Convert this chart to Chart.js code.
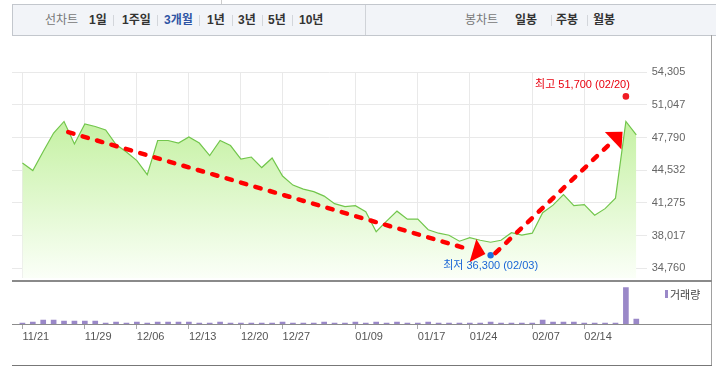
<!DOCTYPE html>
<html><head><meta charset="utf-8">
<script src="https://cdn.jsdelivr.net/npm/chart.js@4.4.1/dist/chart.umd.min.js"></script>
<style>
html,body{margin:0;padding:0;background:#fff;}
#wrap{position:relative;width:716px;height:366px;overflow:hidden;font-family:"Liberation Sans","Noto Sans CJK KR",sans-serif;}
.abs{position:absolute;}
.t{position:absolute;top:4px;line-height:32px;font-size:12px;white-space:nowrap;font-weight:bold;color:#333;}
.n{font-weight:normal;color:#777;}
.sep{position:absolute;top:15px;width:1px;height:11px;background:#d3d6db;}
canvas{position:absolute;left:0;}
</style></head>
<body><div id="wrap">
<div class="abs" style="left:221px;top:0;width:1px;height:4px;background:#ccc"></div>
<div class="abs" style="left:12px;top:4px;width:710px;height:30px;background:#f2f4f8;border:1px solid #c3c7cd;"></div>
<div class="abs" style="left:365px;top:5px;width:1px;height:30px;background:#d0d3d8"></div>
<span class="t n" style="left:45px">선차트</span>
<span class="t" style="left:89px">1일</span><div class="sep" style="left:113px"></div>
<span class="t" style="left:122px">1주일</span><div class="sep" style="left:157px"></div>
<span class="t" style="left:164px;color:#2f55a4">3개월</span><div class="sep" style="left:199px"></div>
<span class="t" style="left:207px">1년</span><div class="sep" style="left:232px"></div>
<span class="t" style="left:238px">3년</span><div class="sep" style="left:262px"></div>
<span class="t" style="left:268px">5년</span><div class="sep" style="left:292px"></div>
<span class="t" style="left:299px">10년</span>
<span class="t n" style="left:465px">봉차트</span>
<span class="t" style="left:515px">일봉</span><div class="sep" style="left:551px"></div>
<span class="t" style="left:556px">주봉</span><div class="sep" style="left:587px"></div>
<span class="t" style="left:593px">월봉</span>
<div class="abs" style="left:711px;top:35px;width:1px;height:331px;background:#a0a0a0"></div>
<canvas id="price" width="716" height="250" style="top:40px"></canvas>
<canvas id="vol" width="716" height="86" style="top:280px"></canvas>
<div class="abs" style="left:12px;top:280px;width:700px;height:2px;background:#8a8a8a"></div>
<div class="abs" style="left:12px;top:324px;width:700px;height:1px;background:#8c8c8c"></div>
<div class="abs" style="left:12px;top:365px;width:700px;height:1px;background:#777"></div>
<div class="abs" style="left:665px;top:290px;width:3px;height:8px;background:#9a88c8"></div>
<div class="abs" style="left:670px;top:287px;font-size:11px;line-height:14px;color:#444;font-family:'Noto Sans CJK KR',sans-serif">거래량</div>
</div>
<script>
const dates = ['11/21','11/22','11/25','11/26','11/27','11/28','11/29',
 '12/02','12/03','12/04','12/05','12/06','12/09','12/10','12/11','12/12','12/13','12/16','12/17','12/18','12/19','12/20','12/23','12/24','12/26','12/27','12/30',
 '01/02','01/03','01/06','01/07','01/08','01/09','01/10','01/13','01/14','01/15','01/16','01/17','01/20','01/21','01/22','01/23','01/24','01/31',
 '02/03','02/04','02/05','02/06','02/07','02/10','02/11','02/12','02/13','02/14','02/17','02/18','02/19','02/20','02/21'];
const closes = [45250,44500,46400,48250,49400,47150,49150,48900,48550,47100,46350,45500,44100,47500,47500,47250,47850,47250,46000,47500,47000,45650,45850,44800,45750,43950,43050,42650,42400,41950,41200,40900,41000,40400,38400,39450,40450,39650,39650,38600,38250,38050,37450,37800,37550,37350,37550,38300,38050,38250,40300,41050,42100,41000,41100,40050,40700,41750,49400,48050];
const volumes = [10,20,40,40,30,30,30,30,10,20,10,20,10,20,20,20,20,10,10,20,10,10,10,10,10,20,10,10,10,20,10,10,20,10,20,10,20,10,10,20,10,10,10,10,10,20,10,10,10,10,40,20,20,20,10,10,10,10,363,50];
const tickIdx = [0,6,11,16,21,25,32,38,43,49,54];
const yTicks = [34760,38017,41275,44532,47790,51047,54305];
const yMin = 33740, yMax = 54305, volMax = 400;
const highPoint = {i:58, v:51700, label:'최고 51,700 (02/20)'};
const lowPoint = {i:45, v:36300, label:'최저 36,300 (02/03)'};
const arrowDown = {from:[4.4,48340], to:[44.5,36165]};
const arrowUp = {from:[45.45,36260], to:[57.68,48370]};

const fmt = v => String(Math.floor(v)).replace(/\B(?=(\d{3})+(?!\d))/g, ',');
const FONT = '"Liberation Sans", Arial, sans-serif';

function drawArrow(ctx, p0, p1){
  const dx=p1[0]-p0[0], dy=p1[1]-p0[1], L=Math.hypot(dx,dy), ux=dx/L, uy=dy/L;
  const bx=p1[0]-ux*13, by=p1[1]-uy*13;
  ctx.strokeStyle='#ff0000'; ctx.lineWidth=4.5; ctx.lineCap='round'; ctx.setLineDash([5.5,9.5]);
  ctx.beginPath(); ctx.moveTo(p0[0],p0[1]); ctx.lineTo(bx-ux*3,by-uy*3); ctx.stroke();
  ctx.setLineDash([]);
  ctx.fillStyle='#ff0000'; ctx.beginPath();
  ctx.moveTo(p1[0],p1[1]); ctx.lineTo(bx-uy*12,by+ux*12); ctx.lineTo(bx+uy*12,by-ux*12); ctx.closePath(); ctx.fill();
}

const annotPlugin = {
  id:'annot',
  afterDatasetsDraw(chart){
    const {ctx, scales:{x,y}} = chart;
    ctx.save();
    ctx.font = '11px "Liberation Sans","Noto Sans CJK KR",sans-serif';
    ctx.textBaseline='middle';
    const hx=x.getPixelForValue(highPoint.i), hy=y.getPixelForValue(highPoint.v)-2;
    ctx.fillStyle='#f01c24'; ctx.beginPath(); ctx.arc(hx,hy,3.3,0,Math.PI*2); ctx.fill();
    ctx.fillStyle='#e8000e'; ctx.textAlign='right'; ctx.fillText(highPoint.label,hx+4,hy-11);
    const lx=x.getPixelForValue(lowPoint.i), ly=y.getPixelForValue(lowPoint.v)+2.5;
    ctx.fillStyle='#1f6fde'; ctx.beginPath(); ctx.arc(lx,ly,3.2,0,Math.PI*2); ctx.fill();
    ctx.fillStyle='#1a66d6'; ctx.textAlign='center'; ctx.fillText(lowPoint.label,lx,ly+10.5);
    [arrowDown,arrowUp].forEach(a=>{
      drawArrow(ctx,[x.getPixelForValue(a.from[0]),y.getPixelForValue(a.from[1])],[x.getPixelForValue(a.to[0]),y.getPixelForValue(a.to[1])]);
    });
    ctx.restore();
  }
};

new Chart(document.getElementById('price'), {
  type:'line',
  data:{datasets:[{
    data: closes.map((v,i)=>({x:i,y:v})),
    borderColor:'#72c64c', borderWidth:1.2, pointRadius:0, fill:'start', tension:0,
    backgroundColor:(c)=>{const a=c.chart.chartArea; if(!a) return 'rgba(0,0,0,0)';
      const g=c.chart.ctx.createLinearGradient(0,a.top,0,a.bottom);
      g.addColorStop(0,'#b4ed88'); g.addColorStop(1,'#fbfff8'); return g;}
  }]},
  options:{
    responsive:false, animation:false, events:[],
    layout:{padding:{left:12,right:9.3,top:32.3,bottom:8.3}},
    plugins:{legend:{display:false},tooltip:{enabled:false}},
    scales:{
      x:{type:'linear',min:-1,max:60,
        afterBuildTicks:s=>{s.ticks=tickIdx.map(v=>({value:v}));},
        ticks:{display:false}, grid:{color:'#e9e9e9',drawTicks:false,offset:false}, border:{display:false},
        afterFit:s=>{s.height=0;}},
      y:{position:'right',min:yMin,max:yMax,
        afterBuildTicks:s=>{s.ticks=yTicks.map(v=>({value:v}));},
        ticks:{padding:5,color:'#666',font:{size:11,family:FONT},callback:v=>fmt(v)},
        grid:{color:'#e9e9e9',drawTicks:false}, border:{display:false},
        afterFit:s=>{s.width=60;}}
    }
  },
  plugins:[annotPlugin]
});

new Chart(document.getElementById('vol'), {
  type:'bar',
  data:{datasets:[{data: volumes.map((v,i)=>({x:i,y:v})), backgroundColor:'#9a88c8', barThickness:5, borderWidth:0}]},
  options:{
    responsive:false, animation:false, events:[],
    layout:{padding:{left:12,right:69.3,top:4,bottom:0}},
    plugins:{legend:{display:false},tooltip:{enabled:false}},
    scales:{
      x:{type:'linear',min:-1,max:60,offset:false,
        afterBuildTicks:s=>{s.ticks=tickIdx.map(v=>({value:v}));},
        ticks:{align:'start',padding:1,color:'#555',font:{size:11,family:FONT},maxRotation:0,autoSkip:false,callback:v=>dates[v]},
        grid:{drawOnChartArea:false,drawTicks:true,tickLength:5,color:'#aaa',offset:false},
        border:{display:false},
        afterFit:s=>{s.height=42;}},
      y:{display:false,min:0,max:volMax}
    }
  }
});
</script>
</body></html>
